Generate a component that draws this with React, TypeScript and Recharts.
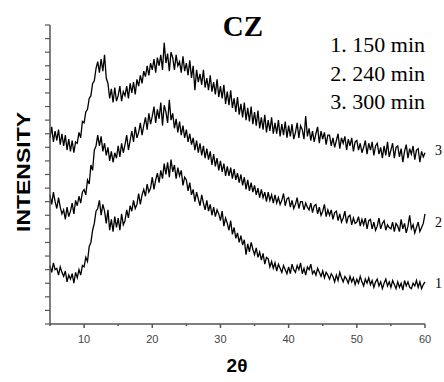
import React from "react";
import { LineChart, Line, XAxis, YAxis } from "recharts";

const START = 5;
const STEP = 0.25;

// Curve 1: 150 min (bottom) — one row per degree, 4 samples each (x.00, x.25, x.50, x.75)
const c1: number[] = [
  43, 38, 45, 40, // 5
  41, 36, 42, 38, // 6
  35, 39, 31, 36, // 7
  33, 37, 30, 38, // 8
  34, 40, 36, 43, // 9
  42, 49, 46, 57, // 10
  60, 69, 74, 83, // 11
  85, 91, 80, 88, // 12
  83, 74, 84, 69, // 13
  77, 68, 79, 71, // 14
  78, 69, 81, 73, // 15
  76, 84, 78, 87, // 16
  83, 91, 85, 88, // 17
  96, 88, 95, 99, // 18
  94, 103, 97, 100, // 19
  108, 99, 106, 111, // 20
  104, 113, 107, 118, // 21
  110, 119, 108, 121, // 22
  112, 117, 107, 115, // 23
  109, 113, 102, 108, // 24
  106, 98, 104, 95, // 25
  99, 90, 97, 92, // 26
  87, 95, 89, 84, // 27
  91, 83, 88, 80, // 28
  86, 79, 84, 81, // 29
  76, 83, 72, 78, // 30
  74, 69, 76, 66, // 31
  71, 63, 67, 60, // 32
  65, 58, 62, 51, // 33
  59, 53, 60, 55, // 34
  51, 56, 49, 53, // 35
  47, 52, 44, 49, // 36
  48, 42, 46, 41, // 37
  45, 39, 44, 41, // 38
  38, 43, 40, 37, // 39
  42, 37, 44, 40, // 40
  38, 43, 40, 45, // 41
  37, 41, 36, 42, // 42
  40, 44, 37, 39, // 43
  36, 41, 38, 35, // 44
  39, 34, 38, 36, // 45
  33, 37, 35, 31, // 46
  36, 32, 38, 34, // 47
  31, 35, 33, 30, // 48
  35, 31, 34, 29, // 49
  33, 30, 35, 31, // 50
  28, 33, 30, 34, // 51
  29, 32, 27, 31, // 52
  33, 28, 31, 26, // 53
  30, 33, 28, 31, // 54
  27, 32, 29, 26, // 55
  31, 27, 30, 25, // 56
  32, 28, 31, 27, // 57
  26, 30, 28, 32, // 58
  27, 31, 26, 29, // 59
  31, // 60
];

// Curve 2: 240 min (middle)
const c2: number[] = [
  95, 88, 97, 90, // 5
  85, 93, 86, 81, // 6
  84, 77, 86, 79, // 7
  83, 89, 81, 91, // 8
  87, 94, 89, 97, // 9
  99, 95, 106, 103, // 10
  117, 113, 128, 131, // 11
  139, 131, 138, 127, // 12
  133, 124, 130, 120, // 13
  127, 119, 126, 122, // 14
  131, 123, 133, 126, // 15
  132, 139, 128, 135, // 16
  142, 134, 145, 137, // 17
  141, 148, 139, 146, // 18
  152, 143, 155, 147, // 19
  153, 160, 148, 158, // 20
  151, 163, 146, 161, // 21
  156, 148, 165, 150, // 22
  155, 144, 151, 141, // 23
  149, 139, 146, 137, // 24
  143, 134, 140, 132, // 25
  137, 128, 135, 126, // 26
  133, 124, 131, 122, // 27
  129, 121, 127, 117, // 28
  125, 116, 122, 113, // 29
  120, 112, 118, 109, // 30
  116, 109, 115, 107, // 31
  114, 106, 111, 104, // 32
  110, 102, 108, 99, // 33
  106, 98, 104, 97, // 34
  102, 95, 100, 93, // 35
  99, 93, 97, 90, // 36
  97, 91, 95, 89, // 37
  95, 89, 93, 88, // 38
  91, 96, 87, 92, // 39
  93, 86, 91, 85, // 40
  88, 93, 85, 90, // 41
  90, 84, 89, 86, // 42
  84, 89, 82, 87, // 43
  88, 81, 86, 80, // 44
  83, 88, 79, 84, // 45
  80, 84, 77, 82, // 46
  83, 76, 81, 75, // 47
  78, 83, 74, 79, // 48
  80, 73, 78, 74, // 49
  75, 79, 72, 77, // 50
  73, 78, 70, 76, // 51
  77, 70, 75, 69, // 52
  72, 78, 70, 74, // 53
  76, 69, 73, 71, // 54
  70, 75, 68, 74, // 55
  72, 68, 77, 70, // 56
  74, 67, 72, 80, // 57
  70, 73, 67, 71, // 58
  75, 68, 71, 74, // 59
  81, // 60
];

// Curve 3: 300 min (top)
const c3: number[] = [
  137, 145, 134, 142, // 5
  135, 143, 132, 140, // 6
  131, 139, 128, 136, // 7
  127, 135, 126, 134, // 8
  133, 141, 137, 149, // 9
  148, 156, 158, 166, // 10
  168, 177, 179, 188, // 11
  193, 185, 195, 186, // 12
  198, 181, 177, 166, // 13
  173, 163, 174, 164, // 14
  168, 175, 164, 171, // 15
  168, 175, 166, 177, // 16
  170, 178, 169, 180, // 17
  175, 183, 177, 186, // 18
  182, 190, 183, 192, // 19
  187, 195, 185, 196, // 20
  190, 198, 187, 207, // 21
  192, 199, 186, 200, // 22
  196, 187, 198, 190, // 23
  193, 185, 197, 186, // 24
  192, 183, 194, 181, // 25
  190, 172, 187, 178, // 26
  184, 176, 187, 174, // 27
  181, 172, 183, 171, // 28
  178, 169, 180, 167, // 29
  175, 166, 176, 162, // 30
  171, 161, 172, 159, // 31
  166, 156, 167, 154, // 32
  162, 152, 163, 150, // 33
  159, 149, 160, 147, // 34
  156, 146, 157, 144, // 35
  152, 143, 154, 141, // 36
  150, 142, 152, 140, // 37
  148, 140, 150, 138, // 38
  147, 139, 149, 137, // 39
  146, 138, 147, 136, // 40
  141, 148, 137, 146, // 41
  143, 136, 153, 138, // 42
  144, 135, 142, 134, // 43
  140, 145, 133, 142, // 44
  136, 141, 132, 139, // 45
  139, 131, 137, 130, // 46
  135, 140, 129, 137, // 47
  133, 138, 128, 136, // 48
  131, 137, 127, 134, // 49
  135, 128, 133, 126, // 50
  130, 135, 125, 133, // 51
  128, 134, 124, 131, // 52
  133, 125, 130, 122, // 53
  131, 124, 134, 123, // 54
  128, 133, 122, 130, // 55
  131, 123, 129, 119, // 56
  127, 132, 122, 129, // 57
  125, 131, 121, 128, // 58
  129, 119, 127, 123, // 59
  126, // 60
];

const xTicks = [5, 10, 15, 20, 25, 30, 35, 40, 45, 50, 55, 60];
const yTicks = [0, 10, 20, 30, 40, 50, 60, 70, 80, 90, 100, 110, 120, 130, 140, 150, 160, 170, 180, 190, 200, 210, 220];
const legendLines = ["1. 150 min", "2. 240 min", "3. 300 min"];
const curveLabels = ["1", "2", "3"];
const title = "CZ";

const data = c1.map((v, i) => ({
  x: START + i * STEP,
  c1: v,
  c2: c2[i],
  c3: c3[i],
}));

const AXIS = "#555";
const SERIF = "'Liberation Serif', 'Times New Roman', serif";
const SANS = "'Liberation Sans', Arial, sans-serif";

const XTick = (props: any) => {
  const { x, y, payload } = props;
  const major = payload.value % 10 === 0;
  return (
    <g>
      <line x1={x} y1={y} x2={x} y2={y + (major ? 4 : 2)} stroke={AXIS} strokeWidth={1.5} />
      {major && (
        <text x={x} y={y + 19} textAnchor="middle" fontFamily={SANS} fontSize={11} fill="#444">
          {payload.value}
        </text>
      )}
    </g>
  );
};

export default function App() {
  return (
    <div style={{ position: "absolute", left: 0, top: 0, width: 444, height: 382, background: "#fff" }}>
      <LineChart width={444} height={382} data={data} margin={{ top: 25, right: 19, left: 0, bottom: 0 }}>
        <XAxis
          dataKey="x"
          type="number"
          domain={[5, 60]}
          ticks={xTicks}
          height={58}
          tickSize={0}
          tickMargin={0}
          tick={<XTick />}
          axisLine={{ stroke: AXIS, strokeWidth: 1.5 }}
          interval={0}
        />
        <YAxis
          type="number"
          domain={[0, 220]}
          ticks={yTicks}
          width={50}
          tickSize={5}
          tick={() => <g />}
          tickLine={{ stroke: AXIS, strokeWidth: 1.2 }}
          axisLine={{ stroke: AXIS, strokeWidth: 1.5 }}
          interval={0}
        />
        <Line type="linear" dataKey="c1" stroke="#000" strokeWidth={1.3} dot={false} isAnimationActive={false} />
        <Line type="linear" dataKey="c2" stroke="#000" strokeWidth={1.3} dot={false} isAnimationActive={false} />
        <Line type="linear" dataKey="c3" stroke="#000" strokeWidth={1.3} dot={false} isAnimationActive={false} />
      </LineChart>
      <svg width={444} height={382} style={{ position: "absolute", left: 0, top: 0, pointerEvents: "none" }}>
        <text x={243} y={36} textAnchor="middle" fontFamily={SERIF} fontWeight="bold" fontSize={29} fill="#000">
          {title}
        </text>
        {legendLines.map((t, i) => (
          <text key={t} x={425} y={52 + i * 28.5} textAnchor="end" fontFamily={SERIF} fontSize={22} fill="#000">
            {t}
          </text>
        ))}
        <text x={435} y={288} fontFamily={SERIF} fontSize={14} fill="#000">{curveLabels[0]}</text>
        <text x={435} y={227} fontFamily={SERIF} fontSize={14} fill="#000">{curveLabels[1]}</text>
        <text x={435} y={155} fontFamily={SERIF} fontSize={14} fill="#000">{curveLabels[2]}</text>
        <text
          transform="translate(30,172) rotate(-90)"
          textAnchor="middle"
          fontFamily={SANS}
          fontWeight="bold"
          fontSize={18}
          textLength={120}
          lengthAdjust="spacingAndGlyphs"
          fill="#000"
        >
          INTENSITY
        </text>
        <text x={237} y={372} textAnchor="middle" fontFamily={SANS} fontWeight="bold" fontSize={19} fill="#000">
          2θ
        </text>
      </svg>
    </div>
  );
}
